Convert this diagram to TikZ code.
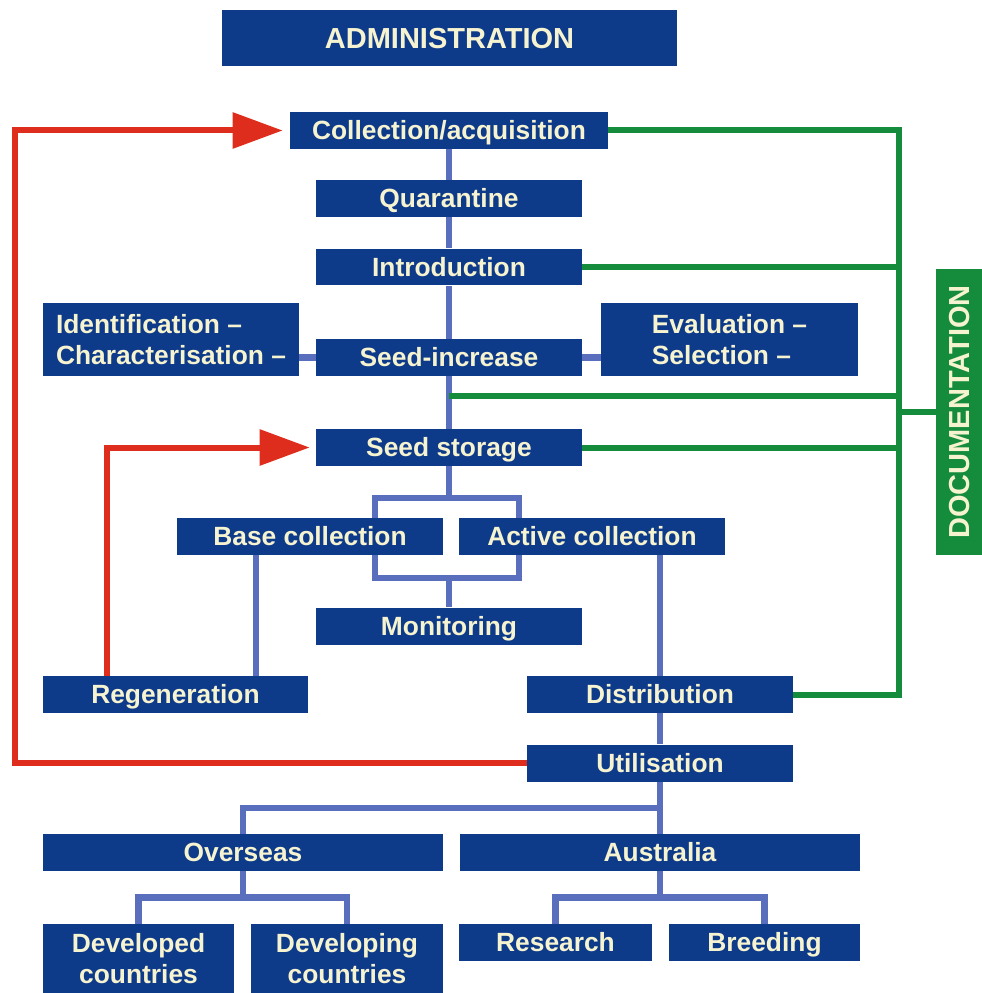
\documentclass[tikz,border=0pt]{standalone}
\usepackage{fontspec}
\setmainfont{Liberation Sans}
\usetikzlibrary{arrows.meta,backgrounds}
\definecolor{boxblue}{RGB}{14,58,138}
\definecolor{linkblue}{RGB}{90,110,190}
\definecolor{loopred}{RGB}{222,45,28}
\definecolor{docgreen}{RGB}{20,140,60}
\definecolor{cream}{RGB}{246,243,208}
\begin{document}
\begin{tikzpicture}[x=0.02cm,y=-0.02cm,line join=miter,
	box/.style={fill=boxblue,text=cream,inner sep=0pt,minimum width=5.32cm,minimum height=0.74cm,
		font=\fontsize{15}{18}\selectfont\bfseries,align=center,text height=10.7pt,text depth=0pt},
	twoline/.style={text height={},text depth={}},
	bigfont/.style={font=\fontsize{16.5}{20}\selectfont\bfseries,text height=11.8pt},
	bluelink/.style={draw=linkblue,line width=0.13cm},
	redloop/.style={draw=loopred,line width=0.12cm,-{Triangle[length=1cm,width=0.7cm]}},
	greenlink/.style={draw=docgreen,line width=0.12cm}]
	\useasboundingbox (0,0) rectangle (982,993);
	% Kasten
	\node[box,bigfont,minimum width=9.1cm,minimum height=1.12cm] (admin) at (449.5,38) {ADMINISTRATION};
	\node[box,minimum width=6.36cm] (coll) at (449,130.5) {Collection/acquisition};
	\node[box] (quar) at (449,198.5) {Quarantine};
	\node[box] (intro) at (449,267) {Introduction};
	\node[box] (seed) at (449,357.5) {Seed-increase};
	\node[box,twoline,minimum width=5.12cm,minimum height=1.46cm,align=left] (ident) at (171,339.5) {Identification --\\Characterisation --};
	\node[box,twoline,minimum width=5.14cm,minimum height=1.46cm,align=left] (eval) at (729.5,339.5) {Evaluation --\\Selection --};
	\node[box] (store) at (449,447.5) {Seed storage};
	\node[box] (base) at (310,536) {Base collection};
	\node[box] (active) at (592,536) {Active collection};
	\node[box] (monit) at (449,626) {Monitoring};
	\node[box,minimum width=5.3cm] (regen) at (175.5,694.5) {Regeneration};
	\node[box] (distr) at (660,694.5) {Distribution};
	\node[box] (util) at (660,763) {Utilisation};
	\node[box,minimum width=8cm] (overs) at (243,852.5) {Overseas};
	\node[box,minimum width=8.02cm] (austr) at (660,852.5) {Australia};
	\node[box,twoline,minimum width=3.82cm,minimum height=1.38cm] (devd) at (138.5,958.5) {Developed\\countries};
	\node[box,twoline,minimum width=3.84cm,minimum height=1.38cm] (devg) at (347,958.5) {Developing\\countries};
	\node[box,minimum width=3.86cm] (res) at (555.5,942.5) {Research};
	\node[box,minimum width=3.82cm] (breed) at (764.5,942.5) {Breeding};
	\node[box,bigfont,fill=docgreen,rotate=90,minimum width=5.72cm,minimum height=0.92cm] (doc) at (959,412) {DOCUMENTATION};
	\begin{pgfonlayer}{background}
		% blaue Verbindungen
		\draw[bluelink] (coll) -- (quar) -- (intro) -- (seed) -- (store);
		\draw[bluelink] (ident.east |- seed) -- (seed) -- (eval.west |- seed);
		\draw[bluelink] (store.south) -- ++(0,31.5) coordinate (br);
		\draw[bluelink] ([xshift=-1.48cm]br) rectangle ++(144,80);
		\draw[bluelink] (br) ++(0,80) -- (monit.north);
		\draw[bluelink] ([xshift=-1.08cm]base.south) coordinate (b1) -- (b1 |- regen.north);
		\draw[bluelink] (distr.north |- active.south) -- (distr.north);
		\draw[bluelink] (distr) -- (util);
		\draw[bluelink] (util.south) -- ++(0,26) coordinate (u1) -| (overs.north);
		\draw[bluelink] (u1) -- (austr.north);
		\draw[bluelink] (overs.south) -- ++(0,26) coordinate (o1);
		\draw[bluelink] (devd.north) |- (o1) -| (devg.north);
		\draw[bluelink] (austr.south) -- ++(0,26) coordinate (a1);
		\draw[bluelink] (res.north) |- (a1) -| (breed.north);
		% rote Rueckfuehrung
		\draw[redloop,shorten >=0.14cm] (util.west) -- ++(-512,0) |- (coll.west);
		\draw[redloop,shorten >=0.12cm] ([xshift=-1.37cm]regen.north) |- (store.west);
		% Dokumentation
		\coordinate (gtop) at ([xshift=5.82cm]coll.east);
		\coordinate (gm) at (449,396);
		\draw[greenlink] (coll.east) -- (gtop) |- (distr.east);
		\draw[greenlink] (intro.east) -- (intro.east -| gtop);
		\draw[greenlink] (gm) -- (gm -| gtop);
		\draw[greenlink] (store.east) -- (store.east -| gtop);
		\draw[greenlink] (gtop |- doc.north) -- (doc.north);
	\end{pgfonlayer}
\end{tikzpicture}
\end{document}
